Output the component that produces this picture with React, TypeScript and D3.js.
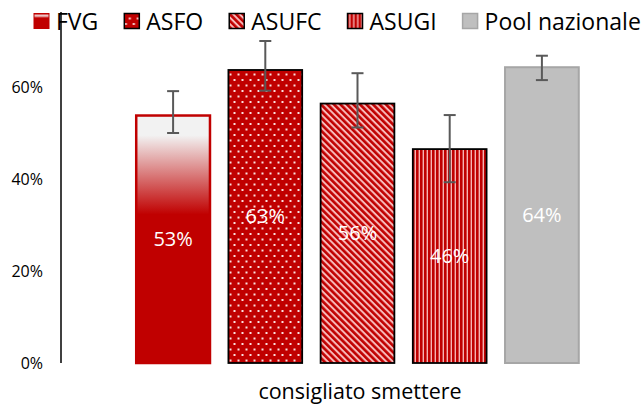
import React, { useEffect, useRef } from 'react';
import * as d3 from 'd3';

// data
const categories = ['FVG', 'ASFO', 'ASUFC', 'ASUGI', 'Pool nazionale'];
const values = [0.538, 0.637, 0.564, 0.465, 0.643];
const valueLabels = ['53%', '63%', '56%', '46%', '64%'];
const errLow = [0.5, 0.592, 0.512, 0.393, 0.615];
const errHigh = [0.591, 0.7, 0.63, 0.539, 0.668];
const yTicks = [0, 0.2, 0.4, 0.6];
const xTitle = 'consigliato smettere';

const RED = '#c00000';
const FONT = "'Open Sans', 'Noto Sans', sans-serif";

const App: React.FC = () => {
  const svgRef = useRef<SVGSVGElement>(null);

  useEffect(() => {
    if (!svgRef.current) return;
    document.body.style.margin = '0';

    const W = 643;
    const H = 406;
    const svg = d3.select(svgRef.current);
    svg.selectAll('*').remove();
    svg.attr('width', W).attr('height', H).style('background', '#fff');

    // fills
    const defs = svg.append('defs');

    const grad = defs.append('linearGradient')
      .attr('id', 'fvgGrad')
      .attr('x1', 0).attr('y1', 0).attr('x2', 0).attr('y2', 1);
    [[0, '#f2f2f2'], [0.08, '#f2f2f2'], [0.4, RED], [1, RED]].forEach(([o, c]) => {
      grad.append('stop').attr('offset', o as number).attr('stop-color', c as string);
    });

    const lg = defs.append('linearGradient')
      .attr('id', 'legGrad').attr('x1', 0).attr('y1', 0).attr('x2', 0).attr('y2', 1);
    [[0, RED], [0.15, '#f2dcdc'], [0.3, RED], [1, RED]].forEach(([o, c]) => {
      lg.append('stop').attr('offset', o as number).attr('stop-color', c as string);
    });

    const dots = defs.append('pattern')
      .attr('id', 'dots').attr('patternUnits', 'userSpaceOnUse')
      .attr('width', 8).attr('height', 11);
    dots.append('rect').attr('width', 8).attr('height', 11).attr('fill', RED);
    dots.append('rect').attr('x', 1.5).attr('y', 2).attr('width', 2).attr('height', 2).attr('fill', '#fbe0e0');
    dots.append('rect').attr('x', 5.5).attr('y', 7.5).attr('width', 2).attr('height', 2).attr('fill', '#fbe0e0');

    const diag = defs.append('pattern')
      .attr('id', 'diag').attr('patternUnits', 'userSpaceOnUse')
      .attr('width', 4.6).attr('height', 4.6)
      .attr('patternTransform', 'rotate(-45)');
    diag.append('rect').attr('width', 4.6).attr('height', 4.6).attr('fill', '#f7b9b9');
    diag.append('rect').attr('width', 2.6).attr('height', 4.6).attr('fill', RED);

    const vert = defs.append('pattern')
      .attr('id', 'vert').attr('patternUnits', 'userSpaceOnUse')
      .attr('width', 4).attr('height', 4);
    vert.append('rect').attr('width', 4).attr('height', 4).attr('fill', '#f6b3b3');
    vert.append('rect').attr('width', 2.6).attr('height', 4).attr('fill', RED);

    const fills = ['url(#fvgGrad)', 'url(#dots)', 'url(#diag)', 'url(#vert)', '#bfbfbf'];
    const strokes = [RED, '#000', '#000', '#000', '#a6a6a6'];
    const strokeW = [2.5, 1.8, 1.8, 1.8, 2];

    // scales
    const y = d3.scaleLinear().domain([0, 0.6]).range([363, 87]);
    const x = d3.scaleBand<string>()
      .domain(categories)
      .range([127, 588])
      .paddingInner(0.2)
      .paddingOuter(0.1);

    // legend
    const legend = svg.append('g').attr('transform', 'translate(0,21)');
    let lx = 33;
    categories.forEach((c, i) => {
      const g = legend.append('g').attr('transform', `translate(${lx},0)`);
      g.append('rect')
        .attr('x', 1).attr('y', -7.5).attr('width', 15).attr('height', 15)
        .attr('fill', i === 0 ? 'url(#legGrad)' : fills[i])
        .attr('stroke', i === 0 ? RED : strokes[i])
        .attr('stroke-width', i === 0 ? 1 : 1.5);
      const t = g.append('text')
        .attr('x', 23).attr('y', 8.5)
        .style('font-family', FONT).style('font-size', '23px').style('fill', '#000')
        .text(c);
      const w = (t.node() as SVGTextElement).getComputedTextLength();
      lx += 23 + w + 25;
    });

    // y axis
    svg.append('line')
      .attr('x1', 61).attr('x2', 61)
      .attr('y1', 12).attr('y2', y(0))
      .attr('stroke', '#000').attr('stroke-width', 1.5);

    svg.append('g').selectAll('text')
      .data(yTicks)
      .enter().append('text')
      .attr('x', 43)
      .attr('y', d => y(d))
      .attr('dy', '0.35em')
      .attr('text-anchor', 'end')
      .style('font-family', FONT).style('font-size', '16px').style('fill', '#000')
      .text(d => d3.format('.0%')(d));

    // bars
    svg.append('g').selectAll('rect')
      .data(values)
      .enter().append('rect')
      .attr('x', (_, i) => x(categories[i])!)
      .attr('y', d => y(d))
      .attr('width', x.bandwidth())
      .attr('height', d => y(0) - y(d))
      .attr('fill', (_, i) => fills[i])
      .attr('stroke', (_, i) => strokes[i])
      .attr('stroke-width', (_, i) => strokeW[i]);

    // value labels
    svg.append('g').selectAll('text')
      .data(values)
      .enter().append('text')
      .attr('x', (_, i) => x(categories[i])! + x.bandwidth() / 2)
      .attr('y', d => (y(d) + y(0)) / 2)
      .attr('dy', '0.35em')
      .attr('text-anchor', 'middle')
      .style('font-family', FONT).style('font-size', '20px').style('fill', '#fff')
      .text((_, i) => valueLabels[i]);

    // error bars
    const eb = svg.append('g').attr('stroke', '#595959').attr('stroke-width', 2);
    categories.forEach((c, i) => {
      const cx = x(c)! + x.bandwidth() / 2;
      eb.append('line').attr('x1', cx).attr('x2', cx).attr('y1', y(errLow[i])).attr('y2', y(errHigh[i]));
      eb.append('line').attr('x1', cx - 6).attr('x2', cx + 6).attr('y1', y(errLow[i])).attr('y2', y(errLow[i]));
      eb.append('line').attr('x1', cx - 6).attr('x2', cx + 6).attr('y1', y(errHigh[i])).attr('y2', y(errHigh[i]));
    });

    // x title
    svg.append('text')
      .attr('x', 360)
      .attr('y', 399)
      .attr('text-anchor', 'middle')
      .style('font-family', FONT).style('font-size', '21.5px').style('fill', '#000')
      .text(xTitle);
  }, []);

  return <svg ref={svgRef} style={{ display: 'block' }} />;
};

export default App;
